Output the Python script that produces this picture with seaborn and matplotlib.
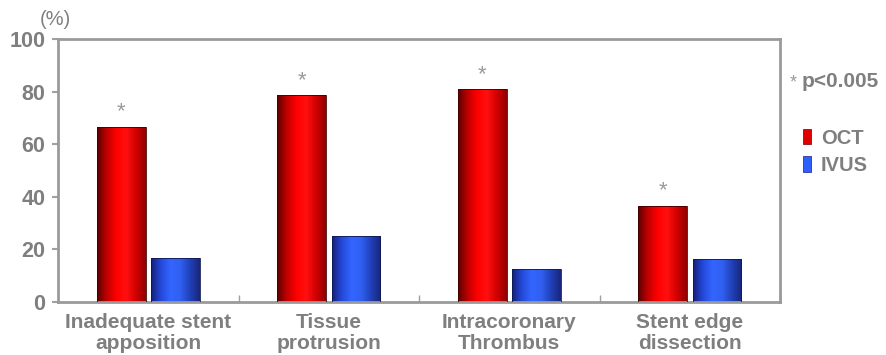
import numpy as np
import pandas as pd
import matplotlib
matplotlib.use("Agg")
import matplotlib.pyplot as plt
from matplotlib.colors import LinearSegmentedColormap
from matplotlib.patches import Patch
import seaborn as sns

categories = ["Inadequate stent\napposition", "Tissue\nprotrusion",
              "Intracoronary\nThrombus", "Stent edge\ndissection"]
methods = ["OCT", "IVUS"]
oct_values = [66.7, 78.6, 81.0, 36.7]
ivus_values = [16.7, 25.0, 12.5, 16.4]
significant = [True, True, True, True]
yticks = [0, 20, 40, 60, 80, 100]

df = pd.DataFrame({
    "category": categories * 2,
    "method": ["OCT"] * len(categories) + ["IVUS"] * len(categories),
    "value": oct_values + ivus_values,
})

sns.set_theme(style="white")
plt.rcParams["font.family"] = ["Liberation Sans", "DejaVu Sans"]
grey = "#7f7f7f"

fig = plt.figure(figsize=(8.86, 3.55), dpi=100)
ax = fig.add_axes([0.0655, 0.149, 0.815, 0.741])

palette = {"OCT": "#ff0000", "IVUS": "#2f5fff"}
sns.barplot(data=df, x="category", y="value", hue="method", order=categories,
            hue_order=methods, palette=palette, width=0.6, gap=0.1,
            ax=ax, legend=False, saturation=1)

# cylinder-like horizontal shading on each bar
cmaps = {
    "OCT": LinearSegmentedColormap.from_list(
        "oct", ["#5a0000", "#c00000", "#ff0000", "#ff1010", "#d00000", "#900000"]),
    "IVUS": LinearSegmentedColormap.from_list(
        "ivus", ["#14207a", "#2448d8", "#3366ff", "#3060f0", "#2040b8", "#18267a"]),
}
grad = np.linspace(0, 1, 256).reshape(1, -1)
n = len(categories)
for i, p in enumerate(ax.patches[: 2 * n]):
    m = methods[i // n]
    x, y0 = p.get_x(), p.get_y()
    w, h = p.get_width(), p.get_height()
    p.set_facecolor("none")
    p.set_edgecolor("#400000" if m == "OCT" else "#101850")
    p.set_linewidth(0.6)
    im = ax.imshow(grad, extent=[x, x + w, y0, y0 + h], aspect="auto",
                   cmap=cmaps[m], zorder=2, interpolation="bicubic")
    im.set_clip_path(p)
    p.set_zorder(3)

# significance markers above the OCT bars
for i, (v, s) in enumerate(zip(oct_values, significant)):
    if s:
        x_center = ax.patches[i].get_x() + ax.patches[i].get_width() / 2
        ax.text(x_center, v + 5.5, "*", ha="center", va="center",
                fontsize=16, color="#9a9a9a")

ax.set_xlim(-0.5, n - 0.5)
ax.set_ylim(0, 100)
ax.set_yticks(yticks)
ax.set_yticklabels([str(t) for t in yticks])
ax.set_xlabel("")
ax.set_ylabel("")

ax.set_xticks(np.arange(n) + 0.5, minor=True)
ax.set_xticks(np.arange(n))
ax.set_xticklabels(categories, fontsize=15, fontweight="bold", color=grey,
                   linespacing=1.12)
ax.tick_params(axis="x", which="major", length=0, pad=8)
ax.tick_params(axis="x", which="minor", direction="in", length=5,
               color="#a0a0a0", width=1, bottom=True)
ax.tick_params(axis="y", which="major", direction="out", length=4,
               color="#a0a0a0", width=1.5, left=True, labelsize=15.5,
               labelcolor=grey, pad=5)
for lbl in ax.get_yticklabels():
    lbl.set_fontweight("bold")

for side in ["left", "right", "top", "bottom"]:
    ax.spines[side].set_visible(True)
    ax.spines[side].set_color("#9a9a9a")
    ax.spines[side].set_linewidth(2)

fig.text(0.045, 0.945, "(%)", fontsize=14.5, color=grey, ha="left", va="center")

fig.text(0.895, 0.765, "*", fontsize=13, color="#9a9a9a", ha="center", va="center")
fig.text(0.905, 0.770, "p<0.005", fontsize=15, color=grey, fontweight="bold",
         ha="left", va="center")

handles = [Patch(facecolor="#e00000", edgecolor="#700000", linewidth=0.5),
           Patch(facecolor="#2f5fff", edgecolor="#14207a", linewidth=0.5)]
leg = fig.legend(handles, methods, loc="upper left",
                 bbox_to_anchor=(0.897, 0.66), frameon=False,
                 handlelength=0.4, handleheight=0.8, handletextpad=0.5,
                 labelspacing=0.4, borderaxespad=0,
                 prop={"size": 14.5, "weight": "bold"})
for t in leg.get_texts():
    t.set_color(grey)

fig.savefig("out.png", dpi=100)
